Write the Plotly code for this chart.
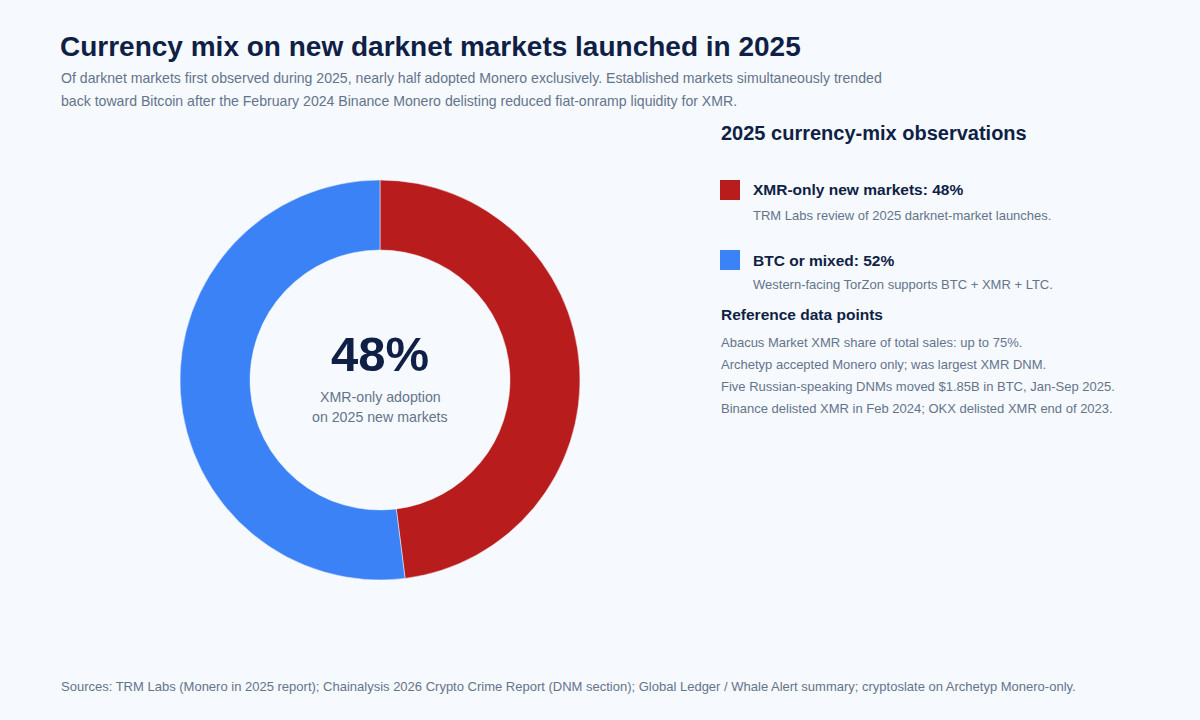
import plotly.graph_objects as go

W, H = 1200, 720

# data
segments = ["XMR-only new markets", "BTC or mixed"]
shares = [48, 52]
colors = ["#B91C1C", "#3B82F6"]
notes = [
    "TRM Labs review of 2025 darknet-market launches.",
    "Western-facing TorZon supports BTC + XMR + LTC.",
]
reference_points = [
    "Abacus Market XMR share of total sales: up to 75%.",
    "Archetyp accepted Monero only; was largest XMR DNM.",
    "Five Russian-speaking DNMs moved $1.85B in BTC, Jan-Sep 2025.",
    "Binance delisted XMR in Feb 2024; OKX delisted XMR end of 2023.",
]

BG = "#F6F9FE"
DARK = "#0F1F45"
GRAY = "#64748B"
FONT = "Liberation Sans, Arial, Helvetica, sans-serif"


def px(x):
    return x / W


def py(y):
    return 1 - y / H


fig = go.Figure()

fig.add_trace(go.Pie(
    labels=segments,
    values=shares,
    hole=0.65,
    sort=False,
    direction="clockwise",
    rotation=0,
    marker=dict(colors=colors, line=dict(color=BG, width=0.5)),
    textinfo="none",
    hoverinfo="label+percent",
    showlegend=False,
    domain=dict(x=[px(180), px(580)], y=[py(580), py(180)]),
))

ann = []


def txt(x, y, s, size, color, bold=False, xanchor="left"):
    ann.append(dict(
        x=px(x), y=py(y), xref="paper", yref="paper",
        text=f"<b>{s}</b>" if bold else s,
        showarrow=False, xanchor=xanchor, yanchor="middle",
        font=dict(family=FONT, size=size, color=color),
    ))


# header
txt(58, 46, "Currency mix on new darknet markets launched in 2025", 28, DARK, bold=True)
txt(59, 78, "Of darknet markets first observed during 2025, nearly half adopted Monero exclusively. "
            "Established markets simultaneously trended", 14.1, GRAY)
txt(59, 101, "back toward Bitcoin after the February 2024 Binance Monero delisting reduced "
             "fiat-onramp liquidity for XMR.", 14.1, GRAY)

# donut centre
txt(380, 354, f"{shares[0]}%", 49, DARK, bold=True, xanchor="center")
txt(380, 397, "XMR-only adoption", 14.2, GRAY, xanchor="center")
txt(380, 417, "on 2025 new markets", 14.2, GRAY, xanchor="center")

# right panel
txt(719, 133, "2025 currency-mix observations", 20, DARK, bold=True)

shapes = []
for i, (seg, val, col, note) in enumerate(zip(segments, shares, colors, notes)):
    y0 = 190 + i * 70
    shapes.append(dict(type="rect", xref="paper", yref="paper",
                       x0=px(720), x1=px(740), y0=py(y0 + 10), y1=py(y0 - 10),
                       fillcolor=col, line=dict(width=0)))
    txt(751, y0, f"{seg}: {val}%", 15.5, DARK, bold=True)
    txt(751, y0 + 25, note, 13, GRAY)

txt(719, 314, "Reference data points", 15.5, DARK, bold=True)
for i, line in enumerate(reference_points):
    txt(719, 342 + i * 22.3, line, 13, GRAY)

# footer
txt(59, 686, "Sources: TRM Labs (Monero in 2025 report); Chainalysis 2026 Crypto Crime Report (DNM section); "
             "Global Ledger / Whale Alert summary; cryptoslate on Archetyp Monero-only.", 13, GRAY)

fig.update_layout(
    width=W, height=H,
    margin=dict(l=0, r=0, t=0, b=0),
    paper_bgcolor=BG,
    plot_bgcolor=BG,
    annotations=ann,
    shapes=shapes,
    font=dict(family=FONT),
)

fig.write_html("out.html", config={"displayModeBar": False},
               post_script="document.body.style.margin='0';")
